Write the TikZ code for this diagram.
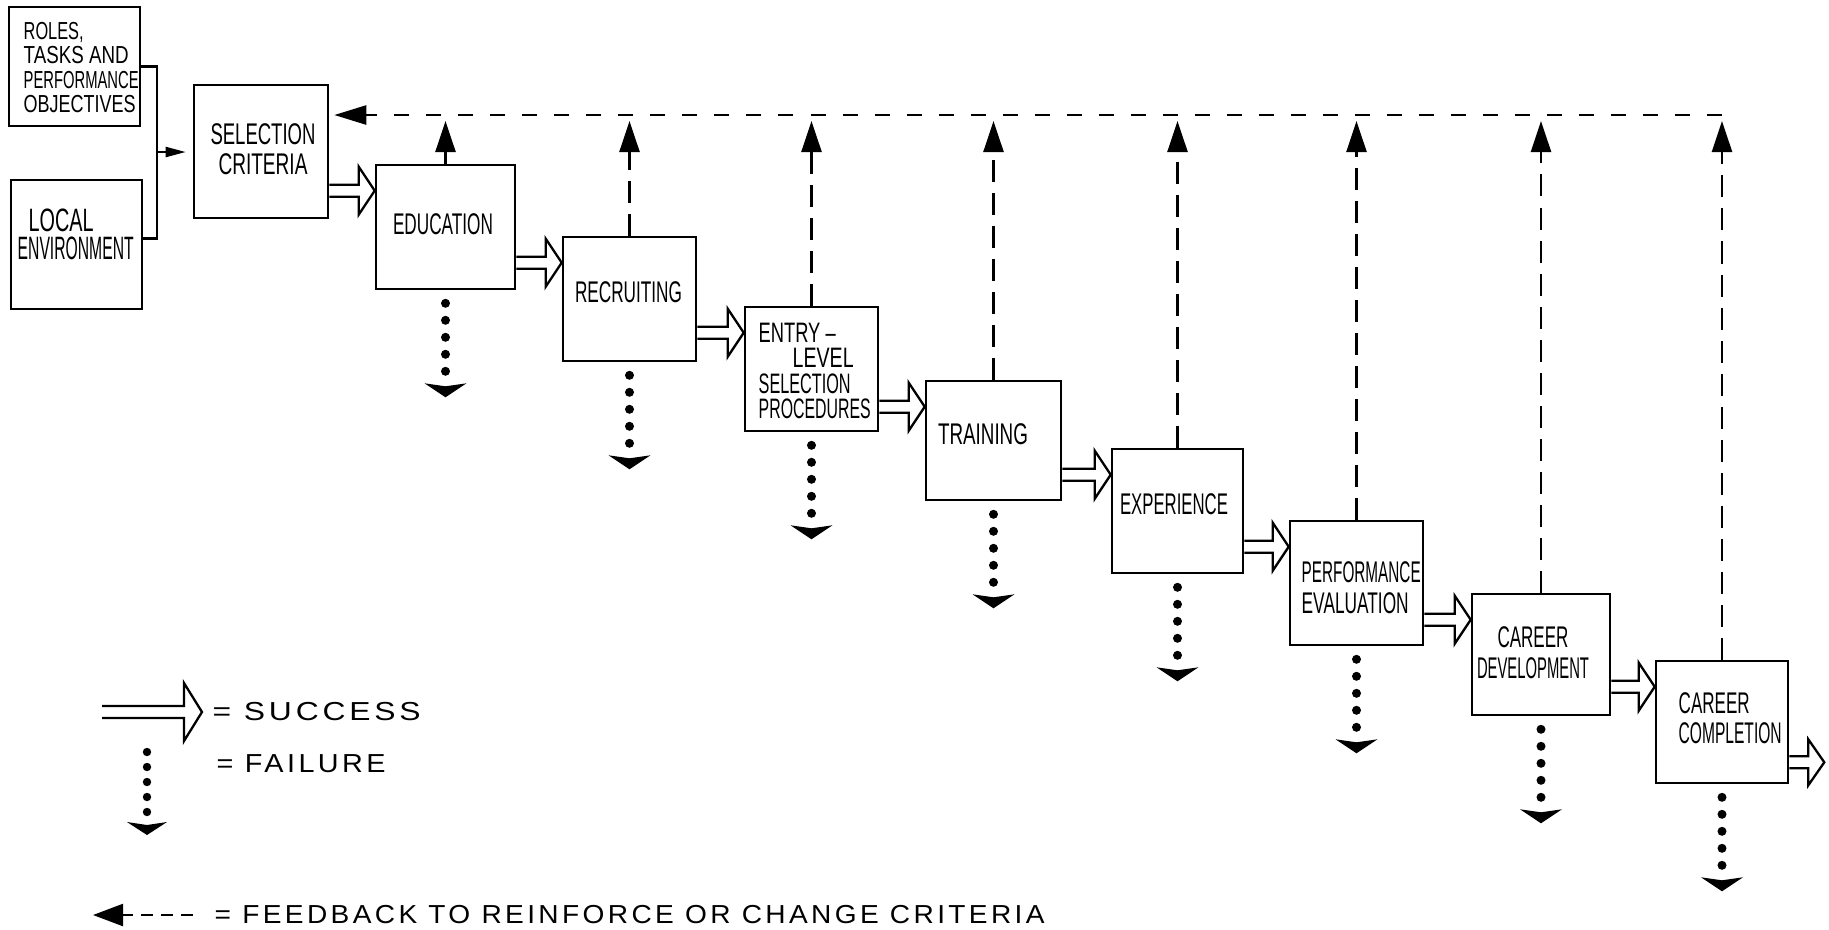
\documentclass[tikz,border=0pt]{standalone}
\usepackage{fontspec}
\usepackage{graphicx}
\setmainfont{Liberation Sans}
\newfontfamily\legfont[LetterSpace=12]{Liberation Sans}
\usetikzlibrary{arrows.meta,calc}
\newdimen\pxu \pxu=0.01cm
\newcommand{\wfit}[2]{\resizebox{#1\pxu}{\height}{#2}}
\newcommand{\boxF}{\fontsize{8.5pt}{8.6pt}\selectfont}
% open "success" arrow: #1 start (shaft centre), #2 tip, #3 head length, #4 head half height
\newcommand{\okshape}[4]{%
  \draw[okline] ($(#1)+(0,-6)$) -- ($(#2)+(-#3,-6)$) -- ($(#2)+(-#3,-#4)$) -- (#2)
    -- ($(#2)+(-#3,#4)$) -- ($(#2)+(-#3,6)$) -- ($(#1)+(0,6)$);}
% dotted "failure" arrow below node #1
\newcommand{\failshape}[1]{%
  \foreach \k in {0,...,4}{\fill ($(#1.south)+(0,13+17*\k)$) circle[radius=0.045cm];}
  \fill ($(#1.south)+(-21,93)$) -- ($(#1.south)+(0,96)$) -- ($(#1.south)+(21,93)$)
    -- ($(#1.south)+(0,107)$) -- cycle;}
\tikzset{
  box/.style={draw, line width=0.025cm, inner sep=0pt, fill=white},
  txt/.style={inner sep=0pt, font=\boxF},
  okline/.style={line width=0.023cm, line join=miter},
  fbv/.style={line width=0.025cm, dash pattern=on 0.22cm off 0.11cm,
    -{Triangle[length=0.31cm,width=0.2cm]}},
  fbh/.style={line width=0.025cm, dash pattern=on 0.15cm off 0.17cm},
  legtxt/.style={inner sep=0pt, font={\legfont\fontsize{7.4pt}{7.5pt}\selectfont}},
}
\begin{document}
\begin{tikzpicture}[x=0.01cm,y=-0.01cm]
\path[fill=white, use as bounding box] (0,0) rectangle (1829,929);

% ---- boxes
\node[box, minimum width=1.31cm, minimum height=1.19cm] (roles) at (74.5,66.5) {};
\node[box, minimum width=1.31cm, minimum height=1.29cm] (local) at (76.5,244.5) {};
\node[box, minimum width=1.34cm, minimum height=1.33cm] (sel) at (261,151.5) {};
\node[box, minimum width=1.39cm, minimum height=1.24cm] (edu) at (445.5,227) {};
\node[box, minimum width=1.33cm, minimum height=1.24cm] (rec) at (629.5,299) {};
\node[box, minimum width=1.33cm, minimum height=1.24cm] (entry) at (811.5,369) {};
\node[box, minimum width=1.35cm, minimum height=1.19cm] (train) at (993.5,440.5) {};
\node[box, minimum width=1.31cm, minimum height=1.24cm] (exp) at (1177.5,511) {};
\node[box, minimum width=1.33cm, minimum height=1.24cm] (perf) at (1356.5,583) {};
\node[box, minimum width=1.38cm, minimum height=1.21cm] (cdev) at (1541,654.5) {};
\node[box, minimum width=1.32cm, minimum height=1.22cm] (ccomp) at (1722,722) {};

% ---- box texts
\node[txt, font={\fontsize{7pt}{6.9pt}\selectfont}, align=left, anchor=west] (roles-t) at (23,67.5)
  {\wfit{60}{ROLES,}\\\wfit{105}{TASKS AND}\\\wfit{115}{PERFORMANCE}\\\wfit{112}{OBJECTIVES}};
\node[txt, font={\fontsize{9.2pt}{8pt}\selectfont}, align=left, anchor=west] (local-t) at (17,234)
  {\hspace*{11\pxu}\wfit{65}{LOCAL}\\\wfit{116}{ENVIRONMENT}};
\node[txt, align=center] (sel-t) at (263,149) {\wfit{105}{SELECTION}\\\wfit{89}{CRITERIA}};
\node[txt] (edu-t) at (443,224) {\wfit{100}{EDUCATION}};
\node[txt] (rec-t) at (628.5,292) {\wfit{107}{RECRUITING}};
\node[txt, font={\fontsize{8pt}{7.2pt}\selectfont}, align=left, anchor=west] (entry-t) at (758,371)
  {\wfit{77}{ENTRY –}\\\hspace*{34\pxu}\wfit{61}{LEVEL}\\\wfit{92}{SELECTION}\\\wfit{112}{PROCEDURES}};
\node[txt] (train-t) at (983,434) {\wfit{90}{TRAINING}};
\node[txt] (exp-t) at (1174,504) {\wfit{108}{EXPERIENCE}};
\node[txt, font={\fontsize{8.5pt}{8.8pt}\selectfont}, align=left, anchor=west] (perf-t) at (1301,587.5)
  {\wfit{119}{PERFORMANCE}\\\wfit{107}{EVALUATION}};
\node[txt, font={\fontsize{8.5pt}{8.8pt}\selectfont}, align=center] (cdev-t) at (1533,652.5)
  {\wfit{71}{CAREER}\\\wfit{112}{DEVELOPMENT}};
\node[txt, font={\fontsize{8.5pt}{8.5pt}\selectfont}, align=left, anchor=west] (ccomp-t) at (1678,718)
  {\wfit{71}{CAREER}\\\wfit{103}{COMPLETION}};

% ---- inputs to selection criteria
\coordinate (brk) at (157,152);
\draw[line width=0.022cm] (roles.east) -| (brk) |- ($(local.east)+(0,-6)$);
\draw[line width=0.022cm, -{Triangle[length=0.2cm,width=0.1cm]}] (brk) -- ($(sel.west |- brk)+(-7,0)$);

% ---- success arrows
\foreach \a/\b in {sel/edu, edu/rec, rec/entry, entry/train, train/exp, exp/perf, perf/cdev, cdev/ccomp}{
  \coordinate (\a-\b-t) at ($(\b.north west)+(0,27)$);
  \coordinate (\a-\b-s) at (\a.east |- \a-\b-t);
  \okshape{\a-\b-s}{\a-\b-t}{16}{24}
}
\coordinate (out) at ($(ccomp.south east)+(35,-22)$);
\coordinate (out-s) at (ccomp.east |- out);
\okshape{out-s}{out}{16}{23}

% ---- failure arrows
\foreach \n in {edu, rec, entry, train, exp, perf, cdev, ccomp}{\failshape{\n}}

% ---- feedback
\coordinate (fbline) at (0,115);
\coordinate (fbtip) at (0,121);
\coordinate (fbR) at (ccomp.north |- fbline);
\coordinate (fbL) at ($(sel.east |- fbline)+(5,0)$);
\draw[fbh, -{Triangle[length=0.32cm,width=0.19cm]}] (fbR) -- (fbL);
\foreach \n in {edu, rec, entry, train, exp, perf, cdev, ccomp}{
  \draw[fbv] (\n.north) -- (\n.north |- fbtip);
}

% ---- legend
\coordinate (ls0) at (102,712);
\coordinate (ls1) at (202,712);
\okshape{ls0}{ls1}{18}{29}
\node[legtxt, anchor=west] (lsucc) at (212,712) {\wfit{208}{= SUCCESS}};

\coordinate (lf) at (147,740);
\foreach \k in {0,...,4}{\fill ($(lf)+(0,12+15*\k)$) circle[radius=0.042cm];}
\fill ($(lf)+(-20,82)$) -- ($(lf)+(0,85)$) -- ($(lf)+(20,82)$) -- ($(lf)+(0,95)$) -- cycle;
\node[legtxt, anchor=west] (lfail) at (216,764) {\wfit{169}{= FAILURE}};

\coordinate (lb0) at (193,915);
\coordinate (lb1) at (93,915);
\draw[line width=0.022cm, dash pattern=on 0.12cm off 0.08cm,
  -{Triangle[length=0.30cm,width=0.22cm]}] (lb0) -- (lb1);
\node[legtxt, anchor=west] (lfb) at (214,915)
  {\wfit{830}{= FEEDBACK TO REINFORCE OR CHANGE CRITERIA}};
\end{tikzpicture}
\end{document}
